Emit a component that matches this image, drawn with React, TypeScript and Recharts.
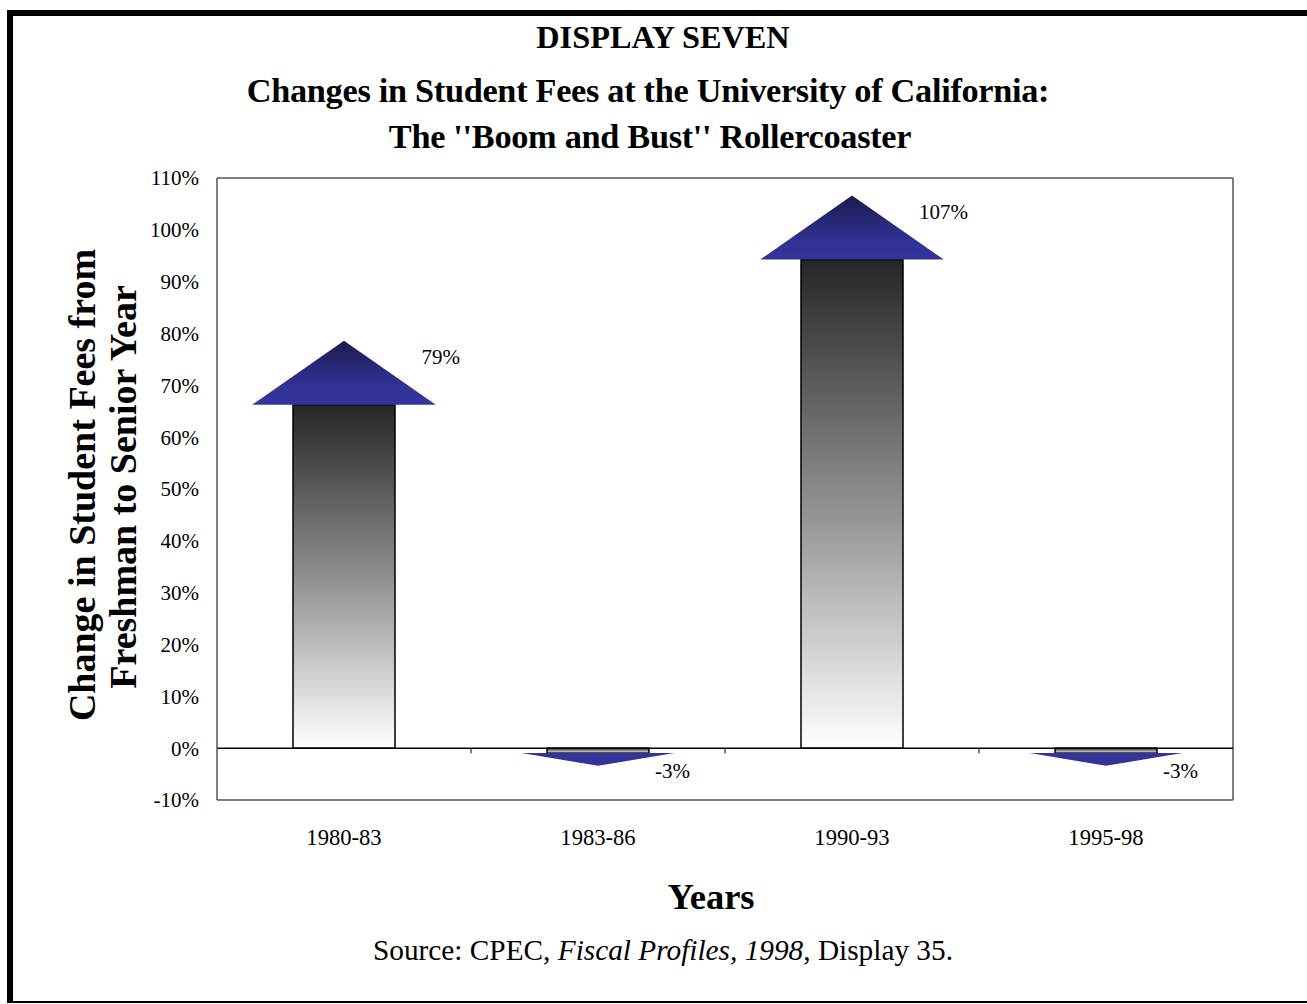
import React from 'react';
import {
  BarChart,
  Bar,
  XAxis,
  YAxis,
  ReferenceLine,
  LabelList,
} from 'recharts';

const periods = ['1980-83', '1983-86', '1990-93', '1995-98'];
const feeChange = [78.6, -3.4, 106.6, -3.4];
const yTicks = [-10, 0, 10, 20, 30, 40, 50, 60, 70, 80, 90, 100, 110];
const xTicks = [0, 1, 2, 3];
const boundaryTicks = [0.5, 1.5, 2.5];

const chartData = periods.map((p, i) => ({ idx: i, period: p, value: feeChange[i] }));

const SERIF = '"Liberation Serif", "Times New Roman", serif';

// split a bar rectangle into shaft + arrow head
const arrowGeom = (x: number, y: number, width: number, height: number, v: number) => {
  const top = Math.min(y, y + height);
  const bottom = Math.max(y, y + height);
  const up = v >= 0;
  const len = bottom - top;
  const head = Math.min(64, len * 0.72);
  const cx = x + width / 2;
  const half = up ? width * 0.9 : width * 0.75;
  if (up) {
    return { up, cx, half, tipY: top, baseY: top + head, rectTop: top + head, rectBottom: bottom };
  }
  return { up, cx, half, tipY: bottom, baseY: bottom - head, rectTop: top, rectBottom: bottom - head };
};

const ArrowShape = (props: any) => {
  const { x, y, width, height } = props;
  const v = props.payload?.value ?? props.value;
  const g = arrowGeom(x, y, width, height, v);
  const pts = `${g.cx - g.half},${g.baseY} ${g.cx + g.half},${g.baseY} ${g.cx},${g.tipY}`;
  return (
    <g>
      <rect
        x={x}
        y={g.rectTop}
        width={width}
        height={Math.max(0, g.rectBottom - g.rectTop)}
        fill="url(#barShade)"
        stroke="#000"
        strokeWidth={1.5}
      />
      <polygon points={pts} fill={g.up ? 'url(#headShade)' : '#333399'} />
    </g>
  );
};

const ArrowLabel = (props: any) => {
  const { x, y, width, height, value } = props;
  const g = arrowGeom(x, y, width, height, value);
  const tx = g.up ? g.cx + 116 : g.cx + 92;
  const ty = g.up ? g.tipY + 23 : g.tipY + 12;
  return (
    <text x={tx} y={ty} textAnchor="end" fontFamily={SERIF} fontSize={21} fill="#000">
      {`${Math.round(value)}%`}
    </text>
  );
};

const App = () => {
  return (
    <div style={{ position: 'absolute', left: 0, top: 0, width: 1307, height: 1004, background: '#fff' }}>
      <BarChart
        width={1307}
        height={1004}
        data={chartData}
        margin={{ top: 178, right: 74, left: 137, bottom: 144 }}
      >
        <defs>
          <linearGradient id="barShade" x1="0" y1="0" x2="0" y2="1">
            <stop offset="0%" stopColor="#262626" />
            <stop offset="50%" stopColor="#8f8f8f" />
            <stop offset="100%" stopColor="#ffffff" />
          </linearGradient>
          <linearGradient id="headShade" x1="0" y1="0" x2="0" y2="1">
            <stop offset="0%" stopColor="#1b1b4f" />
            <stop offset="70%" stopColor="#323294" />
            <stop offset="100%" stopColor="#333399" />
          </linearGradient>
        </defs>
        <XAxis
          dataKey="idx"
          type="number"
          domain={[-0.5, 3.5]}
          ticks={xTicks}
          tickFormatter={(i: number) => periods[i]}
          height={60}
          tickLine={false}
          tickSize={0}
          tickMargin={29}
          axisLine={{ stroke: '#555', strokeWidth: 1.5 }}
          tick={{ fontFamily: SERIF, fontSize: 22.6, fill: '#000' }}
          interval={0}
        />
        <YAxis
          type="number"
          domain={[-10, 110]}
          ticks={yTicks}
          tickFormatter={(v: number) => `${v}%`}
          width={80}
          tickLine={false}
          tickSize={0}
          tickMargin={18}
          axisLine={{ stroke: '#555', strokeWidth: 1.5 }}
          tick={{ fontFamily: SERIF, fontSize: 21, fill: '#000' }}
          interval={0}
        />
        <ReferenceLine y={110} stroke="#555" strokeWidth={1.5} />
        <ReferenceLine x={3.5} stroke="#555" strokeWidth={1.5} />
        <ReferenceLine y={0} stroke="#000" strokeWidth={1.5} />
        {boundaryTicks.map((b) => (
          <ReferenceLine
            key={b}
            segment={[{ x: b, y: 0 }, { x: b, y: -1 }]}
            stroke="#000"
            strokeWidth={1}
          />
        ))}
        <Bar dataKey="value" barSize={102} shape={ArrowShape} isAnimationActive={false}>
          <LabelList dataKey="value" content={ArrowLabel} />
        </Bar>
      </BarChart>

      <svg
        width={1307}
        height={1004}
        style={{ position: 'absolute', left: 0, top: 0, pointerEvents: 'none' }}
      >
        {/* frame */}
        <rect x={7} y={10} width={6} height={993} fill="#000" />
        <rect x={7} y={10} width={1300} height={6} fill="#000" />
        <rect x={7} y={1001} width={1300} height={2} fill="#000" />

        <text x={663} y={48} textAnchor="middle" fontFamily={SERIF} fontWeight="bold" fontSize={32.3}>
          DISPLAY SEVEN
        </text>
        <text x={648} y={102} textAnchor="middle" fontFamily={SERIF} fontWeight="bold" fontSize={34.3} letterSpacing={-0.3}>
          Changes in Student Fees at the University of California:
        </text>
        <text x={650} y={148} textAnchor="middle" fontFamily={SERIF} fontWeight="bold" fontSize={34.3} letterSpacing={-0.3}>
          The ''Boom and Bust'' Rollercoaster
        </text>

        <g fontFamily={SERIF} fontWeight="bold" fontSize={38}>
          <text x={95} y={485} textAnchor="middle" transform="rotate(-90 95 485)">
            Change in Student Fees from
          </text>
          <text x={136} y={487} textAnchor="middle" transform="rotate(-90 136 487)">
            Freshman to Senior Year
          </text>
        </g>

        <text x={711} y={909} textAnchor="middle" fontFamily={SERIF} fontWeight="bold" fontSize={36.5}>
          Years
        </text>
        <text x={663} y={960} textAnchor="middle" fontFamily={SERIF} fontSize={29.3}>
          Source: CPEC, <tspan fontStyle="italic">Fiscal Profiles, 1998</tspan>, Display 35.
        </text>
      </svg>
    </div>
  );
};

export default App;
